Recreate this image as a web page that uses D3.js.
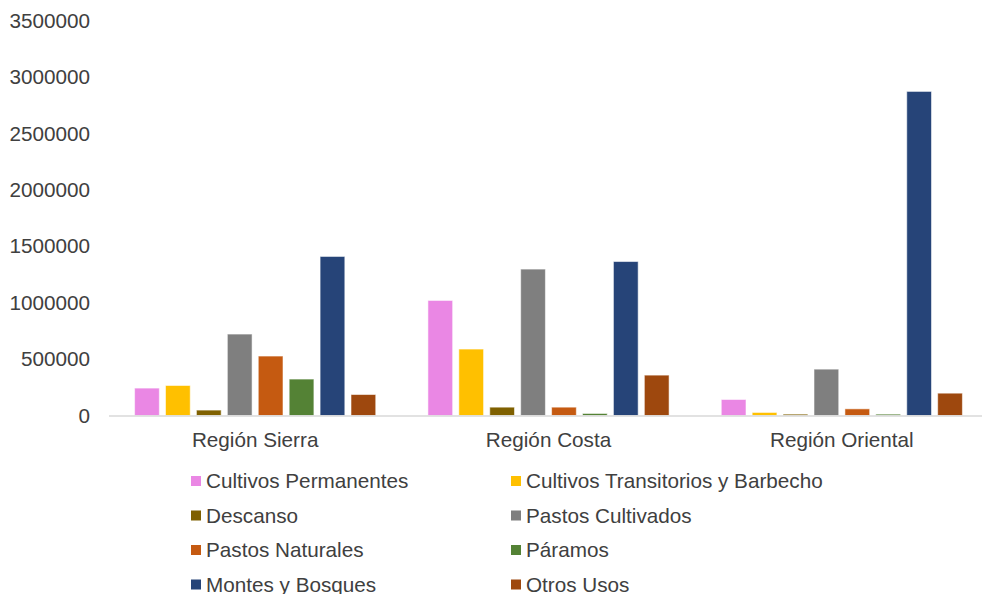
<!DOCTYPE html>
<html>
<head>
<meta charset="utf-8">
<script src="https://cdn.jsdelivr.net/npm/d3@7"></script>
<style>
  html, body { margin: 0; padding: 0; background: #ffffff; }
  svg { display: block; font-family: "Liberation Sans", Arial, sans-serif; }
</style>
</head>
<body>
<svg id="chart" width="982" height="594"></svg>
<script>
// Uso del suelo por región (hectáreas)
const regions = ["Región Sierra", "Región Costa", "Región Oriental"];
const seriesNames = [
  "Cultivos Permanentes",
  "Cultivos Transitorios y Barbecho",
  "Descanso",
  "Pastos Cultivados",
  "Pastos Naturales",
  "Páramos",
  "Montes y Bosques",
  "Otros Usos"
];
const seriesColors = ["#EA87E4", "#FFC000", "#7F6000", "#7F7F7F", "#C55A11", "#548235", "#264478", "#9E480E"];

// Valores por serie, en el orden de las regiones
const cultivosPermanentes = [243000, 1020000, 142000];
const cultivosTransitorios = [266000, 589000, 27000];
const descanso = [48000, 74000, 12000];
const pastosCultivados = [722000, 1298000, 411000];
const pastosNaturales = [527000, 74000, 59000];
const paramos = [323000, 18000, 12000];
const montesBosques = [1410000, 1365000, 2873000];
const otrosUsos = [186000, 358000, 198000];

const seriesValues = [cultivosPermanentes, cultivosTransitorios, descanso, pastosCultivados,
                      pastosNaturales, paramos, montesBosques, otrosUsos];

const yTicks = [0, 500000, 1000000, 1500000, 2000000, 2500000, 3000000, 3500000];

const svg = d3.select("#chart");
const fontSize = 20.7;
const textColor = "#404040";

const x0 = d3.scaleBand().domain(regions).range([108.5, 988.5]).paddingInner(0).paddingOuter(0);
const x1 = d3.scaleBand().domain(seriesNames).range([23, x0.bandwidth() - 23]).paddingInner(0.2).paddingOuter(0.1);
const y = d3.scaleLinear().domain([0, 3500000]).range([415.5, 20.7]);

// Eje Y: solo etiquetas
const yAxis = svg.append("g")
  .attr("transform", "translate(90,0)")
  .call(d3.axisLeft(y).tickValues(yTicks).tickSize(0).tickPadding(0).tickFormat(d3.format("d")));
yAxis.select(".domain").remove();
yAxis.selectAll("text")
  .attr("fill", textColor)
  .style("font-size", fontSize + "px")
  .style("font-family", "'Liberation Sans', Arial, sans-serif");

// Barras
const groups = svg.append("g").selectAll("g")
  .data(regions)
  .join("g")
  .attr("transform", d => `translate(${x0(d)},0)`);

groups.selectAll("rect")
  .data((r, ri) => seriesNames.map((s, si) => ({ s, si, v: seriesValues[si][ri] })))
  .join("rect")
  .attr("x", d => x1(d.s))
  .attr("width", x1.bandwidth())
  .attr("y", d => y(d.v))
  .attr("height", d => y(0) - y(d.v))
  .attr("fill", d => seriesColors[d.si])
  .attr("stroke", "#ffffff")
  .attr("stroke-opacity", 0.55)
  .attr("stroke-width", 1);

// Eje X: línea base y etiquetas de categoría
const xAxis = svg.append("g")
  .attr("transform", `translate(0,${y(0)})`)
  .call(d3.axisBottom(x0).tickSize(0).tickPadding(0));
xAxis.select(".domain")
  .attr("stroke", "#D9D9D9")
  .attr("stroke-width", 1.5);
xAxis.selectAll("text")
  .attr("dy", null)
  .attr("y", 31.5)
  .attr("fill", textColor)
  .style("font-size", fontSize + "px")
  .style("font-family", "'Liberation Sans', Arial, sans-serif");

// Leyenda en dos columnas
const legendCols = [191, 511];
const legendRow0 = 481;
const legendRowStep = 34.5;
const legend = svg.append("g").selectAll("g")
  .data(seriesNames)
  .join("g")
  .attr("transform", (d, i) => `translate(${legendCols[i % 2]},${legendRow0 + Math.floor(i / 2) * legendRowStep})`);
legend.append("rect")
  .attr("x", 0).attr("y", -5)
  .attr("width", 10).attr("height", 10)
  .attr("fill", (d, i) => seriesColors[i]);
legend.append("text")
  .attr("x", 15)
  .attr("y", 0)
  .attr("dy", "0.35em")
  .attr("fill", textColor)
  .style("font-size", fontSize + "px")
  .text(d => d);
</script>
</body>
</html>
